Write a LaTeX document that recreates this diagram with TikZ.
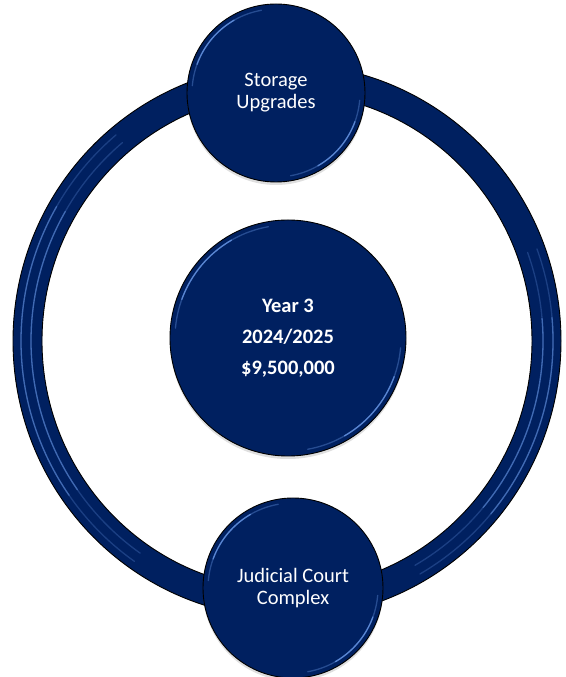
\documentclass[tikz,border=0pt]{standalone}
\usepackage{fontspec}
\setmainfont{Carlito}
\usepackage{xcolor}
\usepackage{tikz}
\usetikzlibrary{shadows,positioning}
\definecolor{navy}{HTML}{002060}
\definecolor{gleam}{HTML}{6F9FEF}

\tikzset{
    shine/.style={gleam, line width=1.3pt, line cap=round},
    bubble/.style={circle, draw=black, line width=0.9pt, fill=navy, text=white,
        align=center, inner sep=0pt, minimum size=2*#1,
        drop shadow={shadow xshift=0pt, shadow yshift=-3pt, opacity=0.25},
        path picture={
            \draw[shine, opacity=0.35] (path picture bounding box.center) ++(100:#1-5pt)
                arc[start angle=100, end angle=175, radius=#1-5pt];
            \draw[shine, opacity=0.7] (path picture bounding box.center) ++(120:#1-5pt)
                arc[start angle=120, end angle=160, radius=#1-5pt];
            \draw[shine, opacity=0.35] (path picture bounding box.center) ++(-80:#1-5pt)
                arc[start angle=-80, end angle=-5, radius=#1-5pt];
            \draw[shine, opacity=0.7] (path picture bounding box.center) ++(-60:#1-5pt)
                arc[start angle=-60, end angle=-20, radius=#1-5pt];
        }},
    plaintext/.style={font=\fontsize{20.5}{22}\selectfont},
    boldtext/.style={font=\bfseries\fontsize{20.5}{31}\selectfont}
}

\begin{document}
\begin{tikzpicture}[x=1pt, y=1pt]
\useasboundingbox (0,0) rectangle (565,677);

% the ring
\coordinate (hub) at (287,336);
\fill[navy, even odd rule] (hub) ellipse[x radius=274, y radius=277]
    (hub) ellipse[x radius=245, y radius=248];
\draw[black, line width=0.9pt] (hub) ellipse[x radius=274, y radius=277]
    (hub) ellipse[x radius=245, y radius=248];
\foreach \r/\q in {256/259, 266/269} {
    \draw[shine, opacity=0.25] (hub) ++(130:\r pt and \q pt)
        arc[start angle=130, end angle=235, x radius=\r, y radius=\q];
    \draw[shine, opacity=0.45] (hub) ++(150:\r pt and \q pt)
        arc[start angle=150, end angle=215, x radius=\r, y radius=\q];
    \draw[shine, opacity=0.25] (hub) ++(-60:\r pt and \q pt)
        arc[start angle=-60, end angle=20, x radius=\r, y radius=\q];
    \draw[shine, opacity=0.45] (hub) ++(-40:\r pt and \q pt)
        arc[start angle=-40, end angle=5, x radius=\r, y radius=\q];
}

% the three circles
\node[bubble=118pt, boldtext] (year) at (288,339) {Year 3\\2024/2025\\\$9,500,000};
\node[bubble=89pt, plaintext] (storage) at (276,584) {Storage\\Upgrades};
\node[bubble=90pt, plaintext] (court) at (293,89) {Judicial Court\\Complex};
\end{tikzpicture}
\end{document}
